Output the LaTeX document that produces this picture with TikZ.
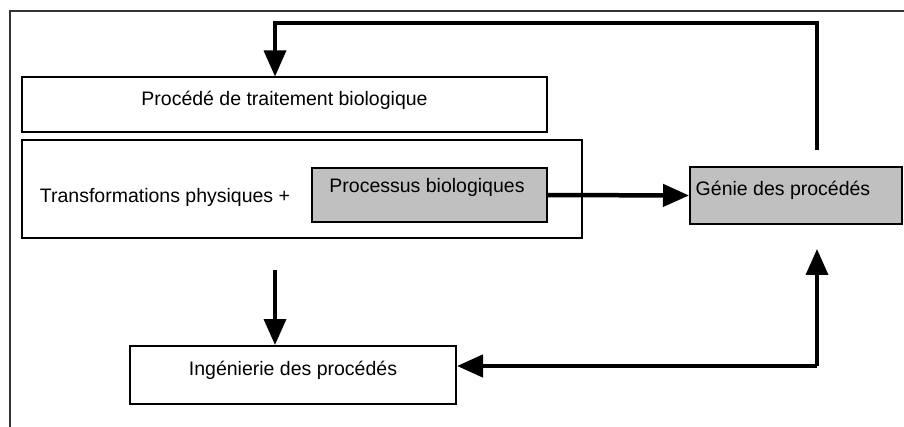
\documentclass[tikz,border=0pt]{standalone}
\usepackage{fontspec}
\setmainfont{Liberation Sans}
\usetikzlibrary{arrows.meta}
\definecolor{boxgray}{RGB}{192,192,192}
\tikzset{
  box/.style={draw=black, line width=2pt, inner sep=0pt},
  graybox/.style={box, fill=boxgray},
  txt/.style={font=\fontsize{19.5}{22}\selectfont, inner sep=0pt},
  arr/.style={draw=black, line width=3.5pt, -{Triangle[length=26pt,width=22pt]}},
}
\begin{document}
\begin{tikzpicture}[x=1pt,y=-1pt]
\useasboundingbox (0,0) rectangle (904,427);
\fill[white] (0,0) rectangle (904,427);
% frame
\draw[line width=1.5pt, black!80] (10,427) -- (10,11) -- (904,11);
% boxes
\node[box, minimum width=525pt, minimum height=55pt] (pt) at (284.5,105) {};
\node[txt] (ptt) at (284.5,100) {Procédé de traitement biologique};
\node[box, minimum width=560pt, minimum height=98pt] (tp) at (302,189) {};
\node[txt] (tpt) at (165,197) {Transformations physiques +};
\node[graybox, minimum width=235pt, minimum height=54pt] (pb) at (429,195) {};
\node[txt] (pbt) at (427,187) {Processus biologiques};
\node[graybox, minimum width=212pt, minimum height=57pt] (g) at (796,195.5) {};
\node[txt] (gt) at (783,190) {Génie des procédés};
\node[box, minimum width=326pt, minimum height=58pt] (ing) at (293,375) {};
\node[txt] (ingt) at (293,370) {Ingénierie des procédés};
% connectors
\coordinate (fbstart) at (817,150);
\coordinate (fbr) at (817,23);
\coordinate (fbl) at (275,23);
\draw[arr] (fbstart) -- (fbr) -- (fbl) -- (pt.north -| fbl);
\draw[arr, line width=4.5pt] (pb.east) -- (g.west);
\coordinate (dstart) at (275,270);
\draw[arr] (dstart) -- (ing.north -| dstart);
\coordinate (corner) at (817,366);
\coordinate (uptip) at (817,249);
\draw[arr, line width=4.5pt] (corner) -- (ing.east |- corner);
\draw[arr] (corner) -- (uptip);
\end{tikzpicture}
\end{document}
